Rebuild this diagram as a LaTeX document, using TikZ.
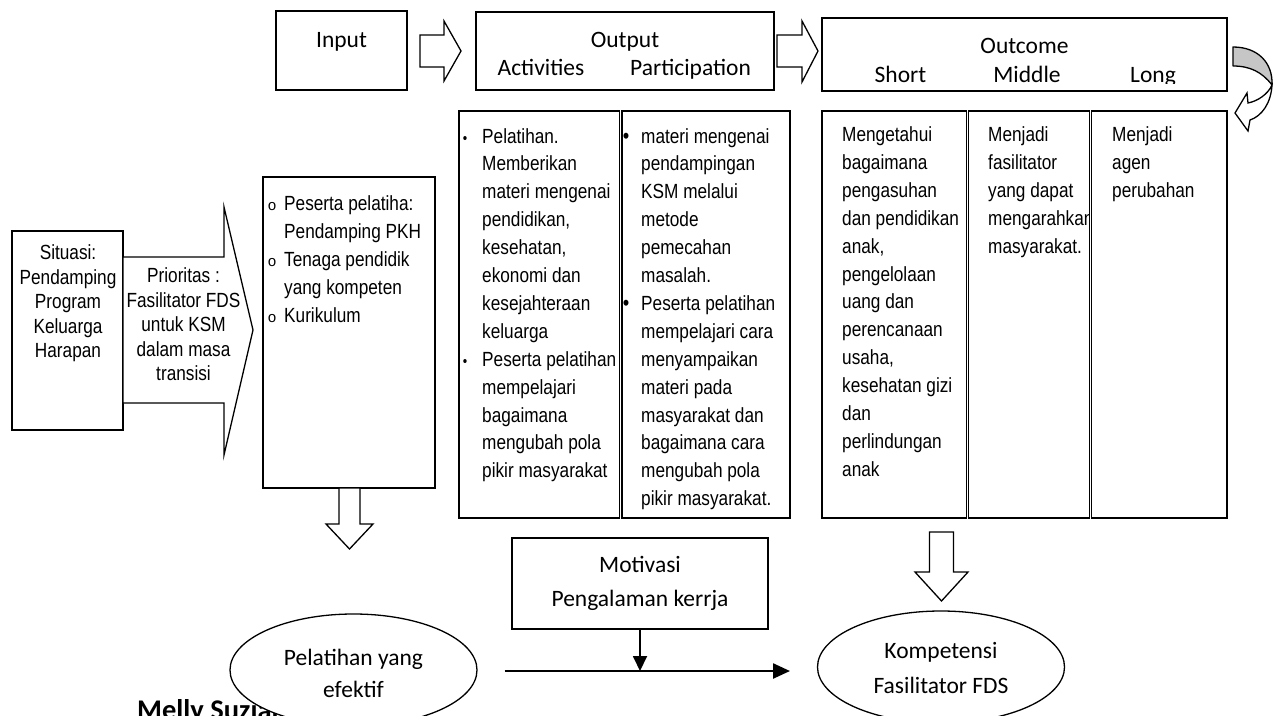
\documentclass[tikz,border=0pt]{standalone}
\usepackage{fontspec}
\setmainfont{Carlito}
\newfontfamily\arialn[FakeStretch=0.84]{Liberation Sans}
\newfontfamily\monof{Liberation Mono}
\usetikzlibrary{shapes.geometric,arrows.meta}
\tikzset{
  box/.style={draw, line width=1.3pt, fill=white, inner sep=0pt, outer sep=0pt, anchor=north west},
  cal/.style={font=\fontsize{23.5}{28}\selectfont, inner sep=0pt, anchor=base},
  ar/.style={font=\arialn\fontsize{20.5}{24}\selectfont, inner sep=0pt, anchor=base west},
  arc/.style={font=\arialn\fontsize{20.5}{24}\selectfont, inner sep=0pt, anchor=base},
  smallbul/.style={font=\arialn\fontsize{15}{15}\selectfont, inner sep=0pt, anchor=base},
  bigbul/.style={font=\arialn\fontsize{22}{22}\selectfont, inner sep=0pt, anchor=base},
  obul/.style={font=\monof\fontsize{15}{15}\selectfont, inner sep=0pt, anchor=base},
  blockarrow/.style={draw, line width=1.3pt, fill=white, line join=miter},
  oval/.style={draw, ellipse, line width=1.3pt, fill=white, inner sep=0pt, minimum width=247pt, minimum height=112pt},
}
\begin{document}
\begin{tikzpicture}[x=1pt,y=-1pt]
\useasboundingbox (0,0) rectangle (1276,715);

% ---------- top row ----------
\node[box, minimum width=131pt, minimum height=79pt] (input) at (276,11) {};
\node[cal] (tinput) at (341.5,47) {Input};
\draw[blockarrow] (420,35) -- (444,35) -- (444,21) -- (461,51) -- (444,81) -- (444,67) -- (420,67) -- cycle;

\node[box, minimum width=298pt, minimum height=78pt] (output) at (476,12) {};
\node[cal] (toutput) at (625,47) {Output};
\node[cal] (tact) at (541,75) {Activities};
\node[cal] (tpart) at (690.5,75) {Participation};
\draw[blockarrow] (777,35) -- (802,35) -- (802,21) -- (818,51) -- (802,82) -- (802,67) -- (777,67) -- cycle;

\node[box, minimum width=405pt, minimum height=73pt] (outcome) at (822,18) {};
\node[cal] (toutcome) at (1024.5,53) {Outcome};
\begin{scope}
  \clip (822,18) rectangle (1227,83);
  \node[cal] (tshort) at (900.5,82) {Short};
  \node[cal] (tmiddle) at (1027,82) {Middle};
  \node[cal] (tlong) at (1153,82) {Long};
\end{scope}

% curved arrow
\draw[line width=1.3pt, fill=gray!45, line join=round] (1233,47) .. controls (1258,47) and (1273,63) .. (1272,85) .. controls (1262,72) and (1250,66) .. (1233,66) -- cycle;
\draw[line width=1.3pt, fill=white, line join=miter] (1272,85) .. controls (1271,103) and (1262,116) .. (1250,120) -- (1248,131) -- (1235,113) -- (1247,93) -- (1248,103) .. controls (1258,101) and (1268,94) .. (1272,85) -- cycle;

% ---------- activities / participation table ----------
\node[box, minimum width=160.5pt, minimum height=407pt] (actA) at (459,111) {};
\node[box, minimum width=168pt, minimum height=407pt] (actB) at (622,111) {};
\begin{scope}
  \clip (459,111) rectangle (619.5,512);
  \foreach \t [count=\i from 0] in {Pelatihan., Memberikan, materi mengenai, {pendidikan,}, {kesehatan,}, ekonomi dan, kesejahteraan, keluarga, Peserta pelatihan, mempelajari, bagaimana, mengubah pola, pikir masyarakat}
    \node[ar] (aL\i) at (482,143+27.9*\i) {\t};
\end{scope}
\node[smallbul] (bL0) at (465,143) {•};
\node[smallbul] (bL1) at (465,143+27.9*8) {•};
\begin{scope}
  \clip (622,111) rectangle (790,512);
  \foreach \t [count=\i from 0] in {materi mengenai, pendampingan, KSM melalui, metode, pemecahan, masalah., Peserta pelatihan, mempelajari cara, menyampaikan, materi pada, masyarakat dan, bagaimana cara, mengubah pola, pikir masyarakat.}
    \node[ar] (aR\i) at (641,143+27.9*\i) {\t};
\end{scope}
\node[bigbul] (bR0) at (626,143) {•};
\node[bigbul] (bR1) at (626,143+27.9*6) {•};

% ---------- outcome table ----------
\node[box, minimum width=144.3pt, minimum height=407pt] (outA) at (822,111) {};
\node[box, minimum width=121pt, minimum height=407pt] (outB) at (968.5,111) {};
\node[box, minimum width=135.2pt, minimum height=407pt] (outC) at (1091.8,111) {};
\foreach \t [count=\i from 0] in {Mengetahui, bagaimana, pengasuhan, dan pendidikan, {anak,}, pengelolaan, uang dan, perencanaan, {usaha,}, kesehatan gizi, dan, perlindungan, anak}
  \node[ar] (oA\i) at (842,141.5+27.9*\i) {\t};
\begin{scope}
  \clip (968.5,111) rectangle (1089.5,518);
  \foreach \t [count=\i from 0] in {Menjadi, fasilitator, yang dapat, mengarahkan, masyarakat.}
    \node[ar] (oB\i) at (988,141.5+27.9*\i) {\t};
\end{scope}
\foreach \t [count=\i from 0] in {Menjadi, agen, perubahan}
  \node[ar] (oC\i) at (1112,141.5+27.9*\i) {\t};

% ---------- left part ----------
\node[box, minimum width=111pt, minimum height=199pt] (situ) at (12,231) {};
\foreach \t [count=\i from 0] in {Situasi:, Pendamping, Program, Keluarga, Harapan}
  \node[arc] (s\i) at (68,259.5+24.5*\i) {\t};
\draw[blockarrow] (123,257) -- (224,257) -- (224,207) -- (253,330) -- (224,455) -- (224,403) -- (123,403) -- cycle;
\foreach \t [count=\i from 0] in {Prioritas :, Fasilitator FDS, untuk KSM, dalam masa, transisi}
  \node[arc] (p\i) at (183.5,282.5+24.5*\i) {\t};

\node[box, minimum width=172pt, minimum height=311pt] (inbox) at (263,177) {};
\foreach \t [count=\i from 0] in {Peserta pelatiha:, Pendamping PKH, Tenaga pendidik, yang kompeten, Kurikulum}
  \node[ar] (in\i) at (284,210.5+28*\i) {\t};
\node[obul] (ob0) at (272,210.5) {o};
\node[obul] (ob1) at (272,266.5) {o};
\node[obul] (ob2) at (272,322.5) {o};

% down arrows
\draw[blockarrow] (339,488) -- (360,488) -- (360,524) -- (373,524) -- (349.5,549) -- (326,524) -- (339,524) -- cycle;
\draw[blockarrow] (929.5,532) -- (953.5,532) -- (953.5,572) -- (968,572) -- (941.5,601) -- (915,572) -- (929.5,572) -- cycle;

% ---------- bottom ----------
\node[box, minimum width=256pt, minimum height=91pt] (mot) at (512,538) {};
\node[cal] (tmot1) at (640,572.5) {Motivasi};
\node[cal] (tmot2) at (640,606.5) {Pengalaman kerrja};

\node[font=\bfseries\fontsize{28.5}{30}\selectfont, inner sep=0pt, anchor=base west] (author) at (137,719) {Melly Suzian};

\node[oval] (e1) at (353.5,670) {};
\node[cal] (te1a) at (353.5,665) {Pelatihan yang};
\node[cal] (te1b) at (353.5,697) {efektif};

\node[oval] (e2) at (941,667) {};
\node[cal] (te2a) at (941,658) {Kompetensi};
\node[cal] (te2b) at (941,693) {Fasilitator FDS};

\coordinate (hs) at (504.5,671);
\coordinate (he) at (790,671);
\coordinate (hj) at (640,671);
\draw[line width=2.4pt, -{Triangle[length=17pt,width=15pt]}] (hs) -- (he);
\draw[line width=1.8pt, -{Triangle[length=15pt,width=14pt]}] (mot.south) -- (hj);
\end{tikzpicture}
\end{document}
